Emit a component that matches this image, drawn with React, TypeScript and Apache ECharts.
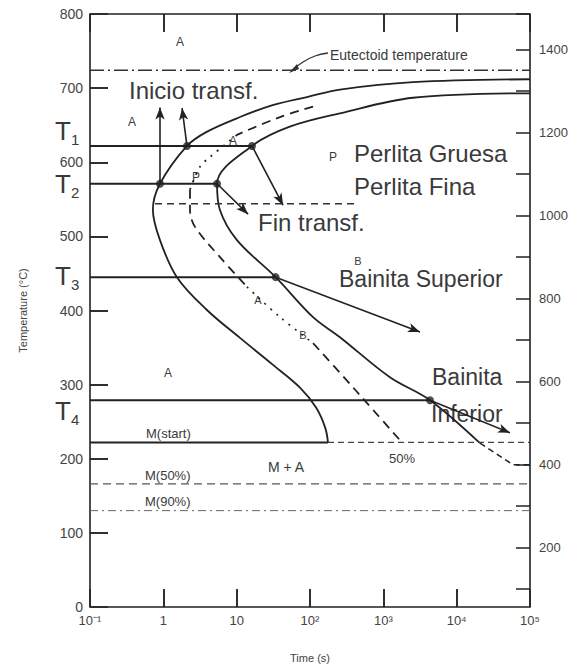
import React, { useEffect, useRef } from "react";
import * as echarts from "echarts";

// ---------- data ----------
const xTickLabels = ["10⁻¹", "1", "10", "10²", "10³", "10⁴", "10⁵"];
const xTickValues = [1, 10, 100, 1000, 10000];
const yTickValues = [100, 200, 300, 400, 500, 600, 700];

// start of transformation (C-curve)
const startTime = [100000, 2540, 256, 91, 31, 11.1, 3.9, 2.1, 0.9, 0.72, 0.9, 1.53, 3.9, 11.1, 31, 73, 121, 161, 176];
const startTemp = [712, 708, 698, 688, 677, 661, 641, 622, 571, 536, 495, 445, 401, 363, 327, 296, 269, 242, 222];

// end of transformation
const finishTime = [100000, 2540, 256, 53, 16.2, 5.4, 5.9, 10.1, 34, 110, 256, 1230, 4330, 20800];
const finishTemp = [693, 687, 666, 648, 622, 571, 536, 495, 445, 391, 364, 310, 279, 221];
const finishTailTime = [20800, 58600, 100000];
const finishTailTemp = [221, 192, 192];

// 50% curve, by segments
const half1Time = [110, 39, 10.1];
const half1Temp = [675, 661, 637];
const half2Time = [10.1, 4.33, 3.16, 2.31];
const half2Temp = [637, 607, 594, 563];
const half3Time = [2.31, 2.31, 2.7, 5.93, 13.8];
const half3Temp = [563, 536, 513, 472, 432];
const half4Time = [13.8, 39, 110];
const half4Temp = [432, 391, 356];
const half5Time = [110, 256, 723, 1687];
const half5Temp = [356, 316, 266, 225];

// isothermal levels T1..T4 and where they end (finish points)
const levelTemp = [622, 571, 445, 279];
const levelEndTime = [16.2, 5.4, 34, 4330];

const eutectoidTemp = 724;
const msTemp = 222;
const msSolidEnd = 176;
const m50Temp = 166;
const m90Temp = 130;
const noseTemp = 544;
const noseStart = 0.77;
const noseEnd = 411;

// marked points
const dotTime = [2.1, 16.2, 0.9, 5.4, 34, 4330];
const dotTemp = [622, 622, 571, 571, 445, 279];

// arrows
const arrowFromTime = [0.9, 2.1, 16.2, 5.4, 34, 4330];
const arrowFromTemp = [571, 622, 622, 571, 445, 279];
const arrowToTime = [0.9, 1.8, 42.9, 14.3, 3162, 53300];
const arrowToTemp = [674, 673, 542, 530, 371, 235];

const zip = (a: number[], b: number[]) => a.map((v, i) => [v, b[i]]);

// ---------- annotations (layout) ----------
const FONT = "Liberation Sans, Arial, sans-serif";
type Ann = { t: string; x: number; y: number; s: number; a?: string; c?: string };
const annotations: Ann[] = [
  { t: "A", x: 180, y: 42, s: 12, a: "center" },
  { t: "Inicio transf.", x: 129, y: 90, s: 24 },
  { t: "A", x: 132, y: 122, s: 12, a: "center" },
  { t: "A", x: 233, y: 141, s: 12, a: "center" },
  { t: "P", x: 196, y: 177, s: 12, a: "center" },
  { t: "P", x: 333, y: 157, s: 12, a: "center" },
  { t: "Perlita Gruesa", x: 354, y: 153, s: 24 },
  { t: "Perlita Fina", x: 354, y: 186, s: 24 },
  { t: "Fin transf.", x: 258, y: 222, s: 24 },
  { t: "B", x: 358, y: 261, s: 11, a: "center" },
  { t: "Bainita Superior", x: 339, y: 279, s: 23 },
  { t: "A", x: 258, y: 300, s: 11, a: "center" },
  { t: "B", x: 303, y: 335, s: 11, a: "center" },
  { t: "A", x: 168, y: 373, s: 12, a: "center" },
  { t: "Bainita", x: 432, y: 377, s: 23 },
  { t: "Inferior", x: 431, y: 414, s: 23 },
  { t: "M(start)", x: 146, y: 433, s: 13 },
  { t: "M + A", x: 268, y: 467, s: 14 },
  { t: "M(50%)", x: 145, y: 475, s: 13 },
  { t: "M(90%)", x: 145, y: 501, s: 13 },
  { t: "50%", x: 389, y: 458, s: 13 },
  { t: "Eutectoid temperature", x: 330, y: 55, s: 14 },
];
const tLabels = [
  { n: "1", y: 131 },
  { n: "2", y: 184 },
  { n: "3", y: 276 },
  { n: "4", y: 411 },
];

const INK = "#222";
const TXT = "#3a3a3a";
// tick lengths expressed in data units (≈18 px)
const Y_TICK_END_TIME = 0.176;
const X_TICK_LEN_TEMP = 24;

export default function App() {
  const ref = useRef<HTMLDivElement>(null);
  useEffect(() => {
    if (!ref.current) return;
    const chart = echarts.init(ref.current, undefined, { renderer: "svg" });

    const line = (data: number[][], lineStyle: any, smooth: number | boolean = 0.35) => ({
      type: "line",
      xAxisIndex: 0,
      yAxisIndex: 0,
      data,
      symbol: "none",
      smooth,
      silent: true,
      lineStyle: { color: INK, width: 1.8, ...lineStyle },
    });

    const tickPairs = [
      ...yTickValues.map((v) => [{ coord: [0.1, v] }, { coord: [Y_TICK_END_TIME, v] }]),
      ...xTickValues.map((t) => [{ coord: [t, 0] }, { coord: [t, X_TICK_LEN_TEMP] }]),
      ...xTickValues.map((t) => [{ coord: [t, 800] }, { coord: [t, 800 - X_TICK_LEN_TEMP] }]),
    ];

    const series: any[] = [
      line(zip(startTime, startTemp), {}),
      line(zip(finishTime, finishTemp), {}),
      line(zip(finishTailTime, finishTailTemp), { type: [6, 4], width: 1.5 }, false),
      line(zip(half1Time, half1Temp), { type: [9, 6], width: 1.8 }),
      line(zip(half2Time, half2Temp), { type: [2, 6], width: 1.8 }),
      line(zip(half3Time, half3Temp), { type: [9, 6], width: 1.8 }),
      line(zip(half4Time, half4Temp), { type: [2, 6], width: 1.6 }),
      line(zip(half5Time, half5Temp), { type: [9, 6], width: 1.8 }),
      ...levelTemp.map((T, i) =>
        line([[0.1, T], [levelEndTime[i], T]], { width: 2 }, false)
      ),
      line([[0.1, msTemp], [msSolidEnd, msTemp]], { width: 2 }, false),
      line([[msSolidEnd, msTemp], [100000, msTemp]], { type: [6, 4], width: 1.3, color: "#444" }, false),
      line([[0.1, m50Temp], [100000, m50Temp]], { type: [8, 5], width: 1.3, color: "#555" }, false),
      line([[0.1, m90Temp], [100000, m90Temp]], { type: [8, 4, 2, 4], width: 1, color: "#666" }, false),
      line([[0.1, eutectoidTemp], [100000, eutectoidTemp]], { type: [14, 4, 2, 4], width: 1.5, color: "#333" }, false),
      line([[noseStart, noseTemp], [noseEnd, noseTemp]], { type: [7, 5], width: 1.4, color: "#333" }, false),
      {
        type: "scatter",
        xAxisIndex: 0,
        yAxisIndex: 0,
        data: zip(dotTime, dotTemp),
        symbolSize: 8,
        itemStyle: { color: INK },
        silent: true,
        z: 5,
        markLine: {
          silent: true,
          symbol: ["none", "arrow"],
          symbolSize: [7, 12],
          label: { show: false },
          lineStyle: { color: INK, width: 1.6, type: "solid" },
          data: arrowFromTime.map((t, i) => [
            { coord: [t, arrowFromTemp[i]] },
            { coord: [arrowToTime[i], arrowToTemp[i]] },
          ]),
        },
      },
      {
        type: "line",
        xAxisIndex: 0,
        yAxisIndex: 0,
        data: [[0.1, 0]],
        symbol: "none",
        silent: true,
        lineStyle: { width: 0 },
        markLine: {
          silent: true,
          symbol: ["none", "none"],
          label: { show: false },
          lineStyle: { color: INK, width: 1.5, type: "solid" },
          data: tickPairs,
        },
      },
    ];

    const graphic: any[] = [
      ...annotations.map((a) => ({
        type: "text",
        x: a.x,
        y: a.y,
        silent: true,
        style: {
          text: a.t,
          fill: a.c || TXT,
          fontSize: a.s,
          fontFamily: FONT,
          textAlign: a.a || "left",
          textVerticalAlign: "middle",
        },
      })),
      ...tLabels.flatMap((l) => [
        {
          type: "text",
          x: 55,
          y: l.y,
          silent: true,
          style: { text: "T", fill: TXT, fontSize: 26, fontFamily: FONT, textAlign: "left", textVerticalAlign: "middle" },
        },
        {
          type: "text",
          x: 71,
          y: l.y + 8,
          silent: true,
          style: { text: l.n, fill: TXT, fontSize: 15, fontFamily: FONT, textAlign: "left", textVerticalAlign: "middle" },
        },
      ]),
      {
        type: "polyline",
        silent: true,
        shape: { points: [[291, 71], [303, 62], [315, 56], [328, 53]], smooth: 0.4 },
        style: { stroke: "#333", lineWidth: 1.3, fill: "none" },
      },
      {
        type: "polygon",
        silent: true,
        shape: { points: [[289, 73], [297, 64], [299, 69]] },
        style: { fill: "#333" },
      },
    ];

    const tick = (length: number) => ({
      show: true,
      inside: true,
      length,
      lineStyle: { color: INK, width: 1.5 },
    });
    const noLine = () => ({ show: false, onZero: false });

    chart.setOption({
      animation: false,
      backgroundColor: "#fff",
      textStyle: { fontFamily: FONT },
      grid: [
        { left: 90, top: 14, right: 49, bottom: 57, show: true, borderColor: INK, borderWidth: 1.6, outerBoundsMode: "none" },
        { left: 90, top: 14, right: 49, bottom: 75, show: false, outerBoundsMode: "none" },
        { left: 90, top: 14, right: 49, bottom: 57, show: false, outerBoundsMode: "none" },
      ],
      xAxis: [
        { gridIndex: 0, type: "log", logBase: 10, min: 0.1, max: 100000, show: false },
        { gridIndex: 1, type: "value", show: false, min: 0, max: 1 },
        {
          gridIndex: 2,
          type: "log",
          logBase: 10,
          min: 0.1,
          max: 100000,
          position: "bottom",
          axisLine: noLine(),
          axisTick: tick(18),
          splitLine: { show: false },
          axisLabel: {
            color: "#444",
            fontSize: 13,
            margin: 7,
            formatter: (v: number) => xTickLabels[Math.round(Math.log10(v)) + 1] ?? "",
          },
          name: "Time (s)",
          nameLocation: "middle",
          nameGap: 45,
          nameTextStyle: { color: "#444", fontSize: 11 },
        },
        {
          gridIndex: 2,
          type: "log",
          logBase: 10,
          min: 0.1,
          max: 100000,
          position: "top",
          axisLine: noLine(),
          axisTick: tick(18),
          splitLine: { show: false },
          axisLabel: { show: false },
        },
      ],
      yAxis: [
        { gridIndex: 0, type: "value", min: 0, max: 800, interval: 100, show: false },
        {
          gridIndex: 1,
          type: "value",
          min: 100,
          max: 1485,
          interval: 100,
          position: "right",
          axisLine: noLine(),
          axisTick: tick(14),
          splitLine: { show: false },
          axisLabel: {
            color: "#444",
            fontSize: 13,
            margin: 9,
            formatter: (v: number) => (v % 200 === 0 ? String(v) : ""),
          },
        },
        {
          gridIndex: 2,
          type: "value",
          min: 0,
          max: 800,
          interval: 100,
          position: "left",
          axisLine: noLine(),
          axisTick: tick(18),
          splitLine: { show: false },
          axisLabel: { color: "#444", fontSize: 14, margin: 7 },
          name: "Temperature (°C)",
          nameLocation: "middle",
          nameGap: 62,
          nameTextStyle: { color: "#444", fontSize: 11 },
        },
      ],
      series,
      graphic,
    });
    return () => chart.dispose();
  }, []);
  return <div ref={ref} style={{ position: "absolute", left: 0, top: 0, width: 579, height: 664 }} />;
}
